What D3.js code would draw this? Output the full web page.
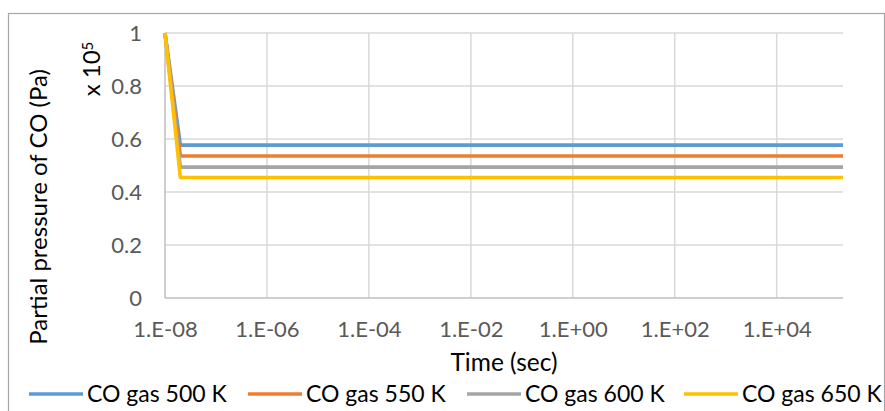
<!DOCTYPE html>
<html>
<head>
<meta charset="utf-8">
<script src="https://cdn.jsdelivr.net/npm/d3@7"></script>
<style>
  html, body { margin: 0; padding: 0; background: #fff; }
  svg { display: block; font-family: Lato, "Open Sans", sans-serif; }
</style>
</head>
<body>
<svg id="chart" width="885" height="411"></svg>
<script>
// Time points (s) and CO partial pressure (x 10^5 Pa) for each temperature
const times = [1e-8, 2e-8, 2e5];
const co500 = [1, 0.577, 0.577];
const co550 = [1, 0.536, 0.536];
const co600 = [1, 0.494, 0.494];
const co650 = [1, 0.455, 0.455];

const seriesNames = ["CO gas 500 K", "CO gas 550 K", "CO gas 600 K", "CO gas 650 K"];
const seriesColors = ["#5B9BD5", "#ED7D31", "#A5A5A5", "#FFC000"];
const seriesValues = [co500, co550, co600, co650];

const xTicks = [1e-8, 1e-6, 1e-4, 1e-2, 1e0, 1e2, 1e4];
const yTicks = [0, 0.2, 0.4, 0.6, 0.8, 1];

const svg = d3.select("#chart");
const plot = { left: 165, right: 843, top: 33, bottom: 298 };

const x = d3.scaleLog().domain([1e-8, 2e5]).range([plot.left, plot.right]);
const y = d3.scaleLinear().domain([0, 1]).range([plot.bottom, plot.top]);

// chart area border
svg.append("rect")
  .attr("x", 8.5).attr("y", 13.5)
  .attr("width", 876).attr("height", 420)
  .attr("fill", "none").attr("stroke", "#a6a6a6").attr("stroke-width", 1.2);

// gridlines
const grid = svg.append("g");
grid.selectAll(".hg").data(yTicks.filter(d => d > 0)).join("line")
  .attr("x1", plot.left).attr("x2", plot.right)
  .attr("y1", d => y(d)).attr("y2", d => y(d))
  .attr("stroke", "#d9d9d9").attr("stroke-width", 1.5);
grid.selectAll(".vg").data(xTicks.slice(1)).join("line")
  .attr("x1", d => x(d)).attr("x2", d => x(d))
  .attr("y1", plot.top).attr("y2", plot.bottom)
  .attr("stroke", "#d9d9d9").attr("stroke-width", 1.5);

// axis lines
svg.append("line")
  .attr("x1", plot.left).attr("x2", plot.right)
  .attr("y1", plot.bottom).attr("y2", plot.bottom)
  .attr("stroke", "#bfbfbf").attr("stroke-width", 1.5);
svg.append("line")
  .attr("x1", plot.left).attr("x2", plot.left)
  .attr("y1", plot.top).attr("y2", plot.bottom)
  .attr("stroke", "#bfbfbf").attr("stroke-width", 1.5);

// y tick labels
const yAxis = d3.axisLeft(y).tickValues(yTicks).tickSize(0).tickPadding(0)
  .tickFormat(d => d3.format("")(+d.toFixed(1)));
const gy = svg.append("g").attr("transform", `translate(${plot.left - 23},0)`).call(yAxis);
gy.select(".domain").remove();
gy.selectAll("text").attr("fill", "#595959").style("font-size", "22px")
  .style("font-family", "Lato, sans-serif").attr("dy", "0.36em");

// x tick labels
const fmtExp = d => {
  const e = Math.round(Math.log10(d));
  return "1.E" + (e < 0 ? "-" : "+") + String(Math.abs(e)).padStart(2, "0");
};
const xAxis = d3.axisBottom(x).tickValues(xTicks).tickSize(0).tickPadding(0).tickFormat(fmtExp);
const gx = svg.append("g").attr("transform", `translate(0,${plot.bottom})`).call(xAxis);
gx.select(".domain").remove();
gx.selectAll("text").attr("fill", "#595959").style("font-size", "22px")
  .style("font-family", "Lato, sans-serif").attr("y", 39).attr("dy", null);

// series lines
const line = d3.line().x((d, i) => x(times[i])).y(d => y(d));
svg.append("g").selectAll("path").data(seriesValues).join("path")
  .attr("d", d => line(d))
  .attr("fill", "none")
  .attr("stroke", (d, i) => seriesColors[i])
  .attr("stroke-width", 3.6)
  .attr("stroke-linejoin", "round");

// axis titles
svg.append("text")
  .attr("x", (plot.left + plot.right) / 2).attr("y", 371)
  .attr("text-anchor", "middle").attr("fill", "#000")
  .style("font-size", "24.5px").text("Time (sec)");

svg.append("text")
  .attr("transform", "translate(47,207) rotate(-90)")
  .attr("text-anchor", "middle").attr("fill", "#000")
  .style("font-size", "24px").text("Partial pressure of CO (Pa)");

const unit = svg.append("text")
  .attr("transform", "translate(100,69) rotate(-90)")
  .attr("text-anchor", "middle").attr("fill", "#000")
  .style("font-size", "24px");
unit.append("tspan").text("x 10");
unit.append("tspan").attr("dy", "-0.45em").style("font-size", "15px").text("5");

// legend
const legendX = [29, 248, 467, 684];
const lg = svg.append("g");
seriesNames.forEach((name, i) => {
  lg.append("line")
    .attr("x1", legendX[i]).attr("x2", legendX[i] + 54)
    .attr("y1", 394).attr("y2", 394)
    .attr("stroke", seriesColors[i]).attr("stroke-width", 3.6);
  lg.append("text")
    .attr("x", legendX[i] + 58).attr("y", 402)
    .attr("fill", "#000").style("font-size", "23px")
    .text(name);
});
</script>
</body>
</html>
